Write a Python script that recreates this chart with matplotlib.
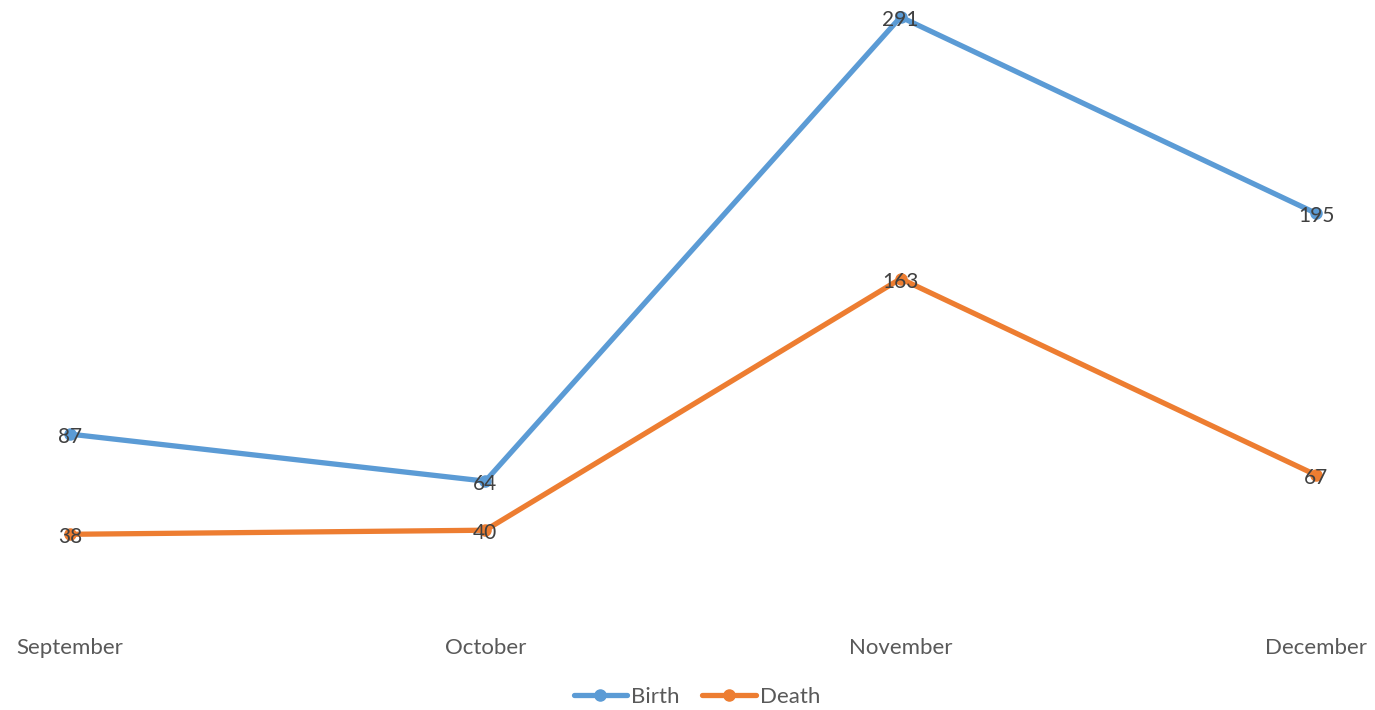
import matplotlib
matplotlib.use('Agg')
import matplotlib.pyplot as plt
import matplotlib.transforms as mtransforms

months = ['September', 'October', 'November', 'December']
birth = [87, 64, 291, 195]
death = [38, 40, 163, 67]

plt.rcParams['font.family'] = ['Lato', 'DejaVu Sans']

W, H = 1375, 710
fig = plt.figure(figsize=(W / 100, H / 100), dpi=100)
# axes: x from 70 to 1316 px, y from 17 (top) to 612 (zero)
ax = fig.add_axes([70 / W, (H - 612) / H, (1316 - 70) / W, (612 - 17) / H])

x = list(range(len(months)))
blue = '#5B9BD5'
orange = '#ED7D31'
ax.plot(x, birth, color=blue, lw=3.8, marker='o', ms=8, label='Birth',
        solid_capstyle='round', clip_on=False)
ax.plot(x, death, color=orange, lw=3.8, marker='o', ms=8, label='Death',
        solid_capstyle='round', clip_on=False)

# labels sit on the points, nudged a bit down
off = mtransforms.offset_copy(ax.transData, fig=fig, x=0, y=-3, units='dots')
for xi, v in zip(x, birth):
    ax.text(xi, v, str(v), ha='center', va='center', fontsize=15, color='#404040',
            transform=off)
for xi, v in zip(x, death):
    ax.text(xi, v, str(v), ha='center', va='center', fontsize=15, color='#404040',
            transform=off)

ax.set_xlim(0, 3)
ax.set_ylim(0, 291)
ax.set_yticks([])
ax.set_xticks(x)
ax.set_xticklabels(months, fontsize=16, color='#595959')
ax.tick_params(axis='x', length=0, pad=19)
for s in ax.spines.values():
    s.set_visible(False)

leg = fig.legend(loc='center', bbox_to_anchor=(697 / W, 1 - 697 / H), ncol=2,
                 frameon=False, fontsize=16, handlelength=2.4, handletextpad=0.2,
                 columnspacing=1.0)
for t in leg.get_texts():
    t.set_color('#595959')

fig.savefig('out.png', dpi=100)
